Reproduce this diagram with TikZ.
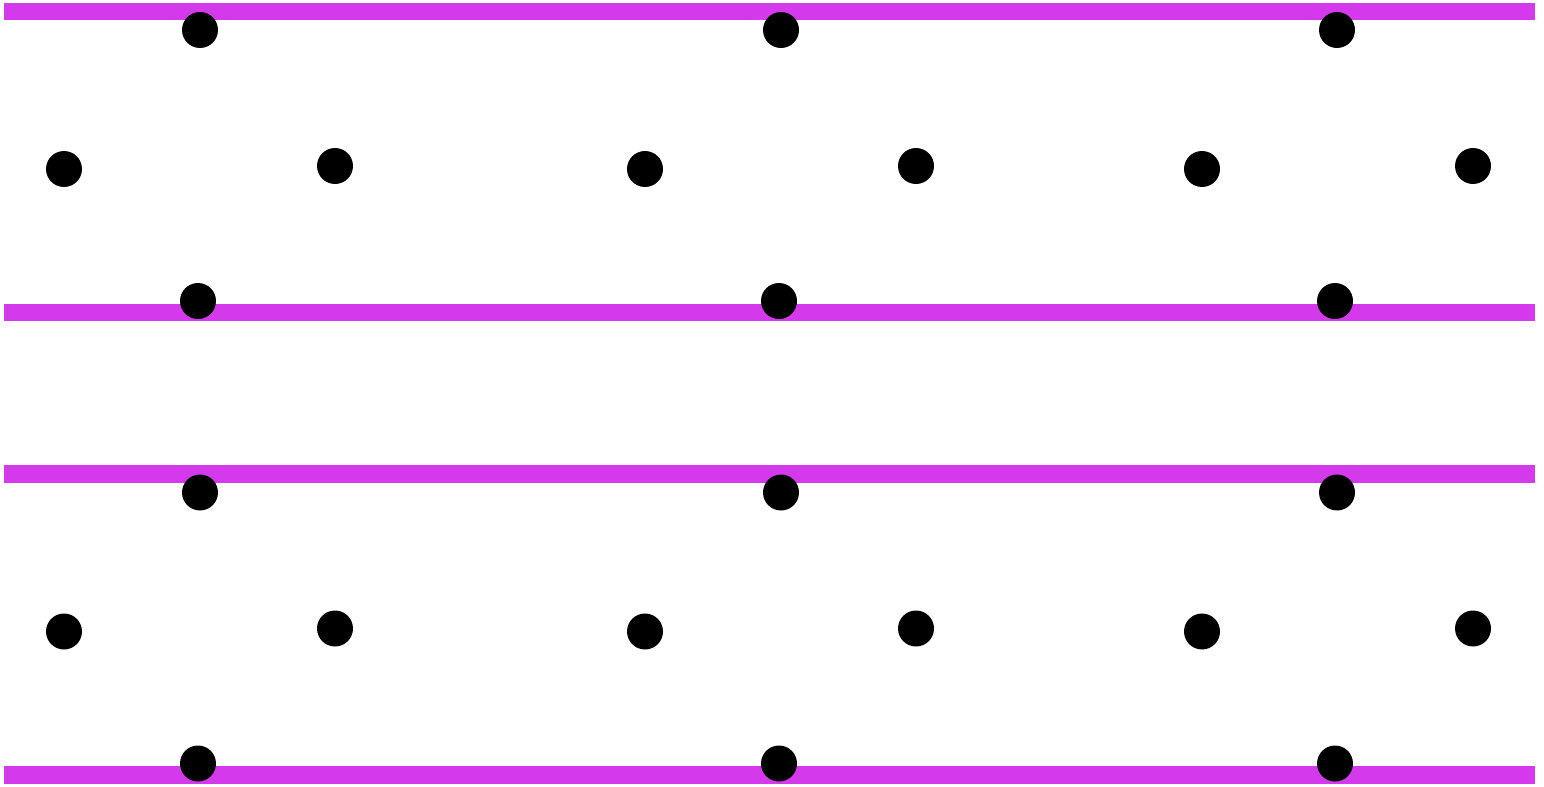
\documentclass[tikz,border=0pt]{standalone}
\usepackage{xcolor}
\definecolor{Barcolor}{RGB}{212,58,235}
\usepackage{tikz}
\usetikzlibrary{positioning}

\begin{document}
\begin{tikzpicture}[
  x=0.02cm, y=-0.02cm,
  bar/.style={draw=Barcolor, line width=0.35cm, line cap=butt},
  bead/.style={circle, fill=black, inner sep=0pt, minimum size=0.72cm}
]
\useasboundingbox (0,0) rectangle (1544,787);

%% ---- BARRAS ----
\coordinate (b1w) at (4, 11.5);  \coordinate (b1e) at (1535, 11.5);
\coordinate (b2w) at (4, 312.5); \coordinate (b2e) at (1535, 312.5);
\coordinate (b3w) at (4, 474);   \coordinate (b3e) at (1535, 474);
\coordinate (b4w) at (4, 775);   \coordinate (b4e) at (1535, 775);

\draw[bar] (b1w) -- (b1e);
\draw[bar] (b2w) -- (b2e);
\draw[bar] (b3w) -- (b3e);
\draw[bar] (b4w) -- (b4e);

%% ---- PUNTOS: grupo superior (g=0) e inferior (g=1) ----
\foreach \g/\dy in {0/0, 1/462.5} {
  % fila alta
  \node[bead] (top\g a) at (200, 30+\dy) {};
  \node[bead] (top\g b) at (781, 30+\dy) {};
  \node[bead] (top\g c) at (1337, 30+\dy) {};
  % fila media
  \node[bead] (mid\g a) at (64, 169+\dy) {};
  \node[bead] (mid\g b) at (335, 166+\dy) {};
  \node[bead] (mid\g c) at (645, 169+\dy) {};
  \node[bead] (mid\g d) at (916, 166+\dy) {};
  \node[bead] (mid\g e) at (1202, 169+\dy) {};
  \node[bead] (mid\g f) at (1473, 166+\dy) {};
  % fila baja
  \node[bead] (low\g a) at (198, 301+\dy) {};
  \node[bead] (low\g b) at (779, 301+\dy) {};
  \node[bead] (low\g c) at (1335, 301+\dy) {};
}

\end{tikzpicture}
\end{document}
